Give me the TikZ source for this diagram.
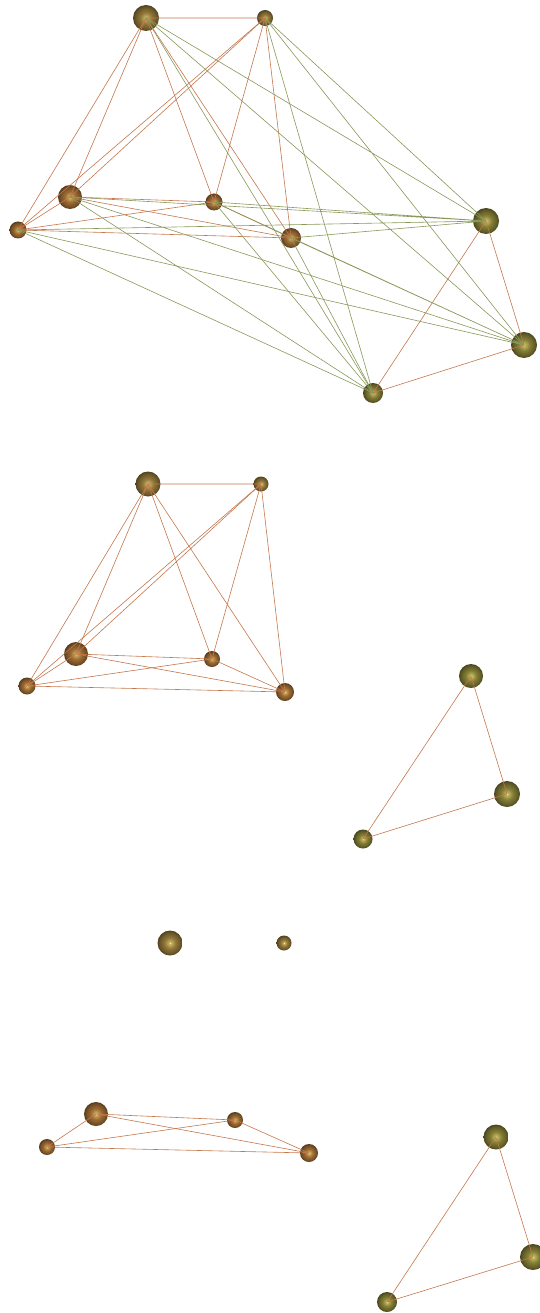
\documentclass[tikz,border=0pt]{standalone}

\definecolor{copperbase}{RGB}{158,108,52}
\definecolor{goldbase}{RGB}{145,118,56}
\definecolor{olivebase}{RGB}{132,126,54}
\definecolor{hilite}{RGB}{255,245,140}
\definecolor{edgeorange}{RGB}{196,118,76}
\definecolor{edgegreen}{RGB}{136,152,88}

\pgfdeclareradialshading{copperball}{\pgfpoint{0bp}{0bp}}{%
  color(0bp)=(hilite); color(2bp)=(copperbase!50!hilite);
  color(11bp)=(copperbase); color(21bp)=(copperbase!72!black);
  color(25bp)=(copperbase!55!black); color(50bp)=(copperbase!55!black)}
\pgfdeclareradialshading{goldball}{\pgfpoint{0bp}{0bp}}{%
  color(0bp)=(hilite); color(2bp)=(goldbase!50!hilite);
  color(11bp)=(goldbase); color(21bp)=(goldbase!72!black);
  color(25bp)=(goldbase!55!black); color(50bp)=(goldbase!55!black)}
\pgfdeclareradialshading{oliveball}{\pgfpoint{0bp}{0bp}}{%
  color(0bp)=(hilite); color(2bp)=(olivebase!50!hilite);
  color(11bp)=(olivebase); color(21bp)=(olivebase!72!black);
  color(25bp)=(olivebase!55!black); color(50bp)=(olivebase!55!black)}

\begin{document}
\begin{tikzpicture}[
  x=1pt, y=-1pt,
  cv/.style={circle,inner sep=0pt,minimum size=#1,shading=copperball},
  gv/.style={circle,inner sep=0pt,minimum size=#1,shading=goldball},
  ov/.style={circle,inner sep=0pt,minimum size=#1,shading=oliveball},
  oe/.style={draw=edgeorange,line width=0.6pt},
  ge/.style={draw=edgegreen,line width=0.6pt},
]
  \useasboundingbox (0,0) rectangle (539,1313);

  % Top: whole graph
  \node[gv=26] (Ta) at (146,18) {};
  \node[gv=16] (Tb) at (265,18) {};
  \node[cv=24] (Tc) at (70,197) {};
  \node[cv=17] (Td) at (214,202) {};
  \node[cv=17] (Te) at (18,230) {};
  \node[cv=20] (Tf) at (291,238) {};
  \node[ov=26] (Tg) at (486,221) {};
  \node[ov=26] (Th) at (524,345) {};
  \node[ov=20] (Ti) at (373,393) {};

  \draw[oe] (Ta.center) -- (Tb.center) -- (Tc.center) -- (Td.center) -- (Te.center) -- (Tf.center)
    -- (Ta.center) -- (Tc.center) -- (Te.center) -- (Ta.center) -- (Td.center) -- (Tf.center)
    -- (Tb.center) -- (Td.center);
  \draw[oe] (Tb.center) -- (Te.center);
  \draw[oe] (Tc.center) -- (Tf.center);
  \draw[oe] (Tg.center) -- (Th.center) -- (Ti.center) -- (Tg.center);

  % green links between the two parts
  \draw[ge] (Tg.center) -- (Ta.center) -- (Th.center) -- (Tb.center) -- (Tg.center) -- (Tc.center)
    -- (Th.center) -- (Td.center) -- (Tg.center) -- (Te.center) -- (Th.center) -- (Tf.center)
    -- (Tg.center);
  \draw[ge] (Ta.center) -- (Ti.center) -- (Tb.center);
  \draw[ge] (Tc.center) -- (Ti.center) -- (Td.center);
  \draw[ge] (Te.center) -- (Ti.center) -- (Tf.center);

  % Middle: green links removed
  \node[gv=25] (Ma) at (148,484) {};
  \node[gv=15] (Mb) at (261,484) {};
  \node[cv=24] (Mc) at (76,654) {};
  \node[cv=16] (Md) at (212,659) {};
  \node[cv=17] (Me) at (27,686) {};
  \node[cv=18] (Mf) at (285,692) {};
  \node[ov=24] (Mg) at (471,676) {};
  \node[ov=26] (Mh) at (507,794) {};
  \node[ov=19] (Mi) at (363,839) {};

  \draw[oe] (Ma.center) -- (Mb.center) -- (Mc.center) -- (Md.center) -- (Me.center) -- (Mf.center)
    -- (Ma.center) -- (Mc.center) -- (Me.center) -- (Ma.center) -- (Md.center) -- (Mf.center)
    -- (Mb.center) -- (Md.center);
  \draw[oe] (Mb.center) -- (Me.center);
  \draw[oe] (Mc.center) -- (Mf.center);
  \draw[oe] (Mg.center) -- (Mh.center) -- (Mi.center) -- (Mg.center);

  % Bottom: top pair cut off
  \node[gv=25] (La) at (170,943) {};
  \node[gv=15] (Lb) at (284,943) {};
  \node[cv=24] (Lc) at (96,1114) {};
  \node[cv=16] (Ld) at (235,1120) {};
  \node[cv=16] (Le) at (47,1147) {};
  \node[cv=18] (Lf) at (309,1153) {};
  \node[ov=25] (Lg) at (496,1137) {};
  \node[ov=26] (Lh) at (533,1257) {};
  \node[ov=20] (Li) at (387,1302) {};

  \draw[oe] (Lc.center) -- (Ld.center) -- (Lf.center) -- (Le.center) -- (Lc.center) -- (Lf.center);
  \draw[oe] (Le.center) -- (Ld.center);
  \draw[oe] (Lg.center) -- (Lh.center) -- (Li.center) -- (Lg.center);
\end{tikzpicture}
\end{document}
